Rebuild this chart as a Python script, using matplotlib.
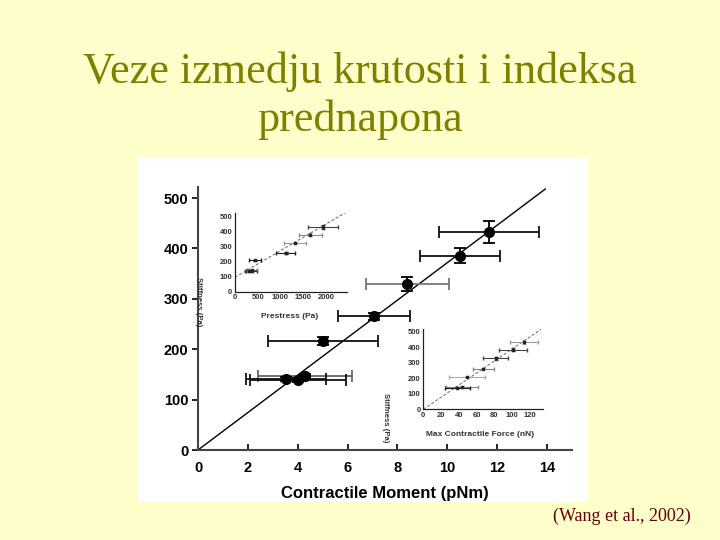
import matplotlib.pyplot as plt
from matplotlib.patches import Rectangle

# main plot: stiffness vs contractile moment
moment = [11.66, 10.51, 8.40, 7.07, 5.01, 4.29, 4.02, 3.53]
moment_err = [2.0, 1.62, 1.65, 1.45, 2.2, 1.9, 1.93, 1.6]
stiff = [433, 386, 329, 265, 217, 147, 139, 141]
stiff_err = [22, 14, 14, 7, 8, 4, 4, 4]
main_xcol = ['#111111', '#111111', '#777777', '#111111', '#111111', '#666666', '#111111', '#111111']
fit_x = [0, 13.93]
fit_y = [0, 518]

# inset 1: stiffness vs prestress
prestress = [1942, 1657, 1328, 1117, 438, 358, 300, 380]
prestress_err = [325, 255, 240, 208, 125, 120, 90, 110]
stiff1 = [431, 380, 322, 258, 209, 140, 138, 143]
stiff1_err = [12, 10, 8, 5, 4, 4, 4, 4]
ins1_col = ['#444444', '#888888', '#999999', '#222222', '#222222', '#222222', '#444444', '#666666']
fit1_x = [0, 2441]
fit1_y = [96, 527]

# inset 2: stiffness vs max contractile force
force = [113.2, 101.2, 81.6, 67.3, 48.9, 43, 38]
force_err = [16, 15.6, 14, 11.7, 20.5, 18, 14]
stiff2 = [433, 384, 328, 262, 210, 143, 140]
stiff2_err = [15, 10, 8, 5, 4, 4, 4]
ins2_col = ['#999999', '#444444', '#444444', '#888888', '#aaaaaa', '#888888', '#222222']
fit2_x = [0, 132.4]
fit2_y = [0, 515]

bg = '#FFFFCC'
fig = plt.figure(figsize=(7.2, 5.4), dpi=100, facecolor=bg)
fig.patches.append(Rectangle((138/720, 38/540), 450/720, 345/540, transform=fig.transFigure,
                             facecolor='white', edgecolor='none', zorder=-5))

fig.text(0.5, 1 - 83/540, 'Veze izmedju krutosti i indeksa', ha='center', va='baseline',
         family='Liberation Serif', fontsize=31.8, color='#808000')
fig.text(0.5, 1 - 131/540, 'prednapona', ha='center', va='baseline',
         family='Liberation Serif', fontsize=31.8, color='#808000')
fig.text(553/720, 1 - 521/540, '(Wang et al., 2002)', ha='left', va='baseline',
         family='Liberation Serif', fontsize=13, color='#660000')

sans = 'Liberation Sans'

ax = fig.add_axes([198/720, 90/540, 374/720, 263/540])
ax.set_facecolor('none')
ax.plot(fit_x, fit_y, color='black', lw=1.0, zorder=2)
for i in range(len(moment)):
    ax.errorbar(moment[i], stiff[i], xerr=moment_err[i], fmt='none', ecolor=main_xcol[i],
                elinewidth=1.3, capsize=4.5, capthick=1.3, zorder=3)
    ax.errorbar(moment[i], stiff[i], yerr=stiff_err[i], fmt='o', color='black', ms=7,
                ecolor='black', elinewidth=1.3, capsize=4.5, capthick=1.3, zorder=4)
ax.set_xlim(0, 15)
ax.set_ylim(0, 522)
ax.set_xticks(range(0, 15, 2))
ax.set_yticks(range(0, 501, 100))
ax.spines['top'].set_visible(False)
ax.spines['right'].set_visible(False)
for s in ['left', 'bottom']:
    ax.spines[s].set_color('#444444')
    ax.spines[s].set_linewidth(1.5)
ax.tick_params(axis='x', direction='in', length=4, width=1.2, pad=8)
ax.tick_params(axis='y', direction='out', length=4, width=1.2, pad=3)
for lab in ax.get_xticklabels() + ax.get_yticklabels():
    lab.set_family(sans)
    lab.set_fontweight('bold')
    lab.set_fontsize(10.5)
ax.set_xlabel('Contractile Moment (pNm)', family=sans, fontweight='bold', fontsize=12, labelpad=8)


def style_inset(a):
    a.set_facecolor('none')
    a.spines['top'].set_visible(False)
    a.spines['right'].set_visible(False)
    for s in ['left', 'bottom']:
        a.spines[s].set_linewidth(0.9)
        a.spines[s].set_color('#222222')
    a.tick_params(length=0, pad=2, labelsize=5.5)
    for lab in a.get_xticklabels() + a.get_yticklabels():
        lab.set_family(sans)
        lab.set_fontweight('bold')
        lab.set_color('#333333')


ax1 = fig.add_axes([235/720, (540-291.7)/540, 111.7/720, 78.7/540])
ax1.plot(fit1_x, fit1_y, color='#666666', lw=0.7, ls=(0, (3, 2)))
for i in range(len(prestress)):
    ax1.errorbar(prestress[i], stiff1[i], xerr=prestress_err[i], yerr=stiff1_err[i], fmt='s',
                 ms=1.8, color='#222222', ecolor=ins1_col[i], elinewidth=0.8, capsize=1.5)
ax1.set_xlim(0, 2460)
ax1.set_ylim(0, 523)
ax1.set_xticks([0, 500, 1000, 1500, 2000])
ax1.set_yticks(range(0, 501, 100))
style_inset(ax1)
fig.text(290/720, 1 - 316/540, 'Prestress (Pa)', ha='center', va='center', family=sans,
         fontsize=6, fontweight='bold', color='#333333')
fig.text(198/720, 1 - 302/540, 'Stiffness (Pa)', ha='center', va='center', family=sans,
         fontsize=5.5, fontweight='bold', color='#333333', rotation=270)

ax2 = fig.add_axes([423.3/720, (540-409.3)/540, 120/720, 80.3/540])
ax2.plot(fit2_x, fit2_y, color='#666666', lw=0.7, ls=(0, (3, 2)))
for i in range(len(force)):
    ax2.errorbar(force[i], stiff2[i], xerr=force_err[i], yerr=stiff2_err[i], fmt='s',
                 ms=1.8, color='#222222', ecolor=ins2_col[i], elinewidth=0.8, capsize=1.5)
ax2.set_xlim(0, 135)
ax2.set_ylim(0, 517)
ax2.set_xticks(range(0, 121, 20))
ax2.set_yticks(range(0, 501, 100))
style_inset(ax2)
fig.text(480/720, 1 - 435/540, 'Max Contractile Force (nN)', ha='center', va='center', family=sans,
         fontsize=6, fontweight='bold', color='#333333')
fig.text(386/720, 1 - 418/540, 'Stiffness (Pa)', ha='center', va='center', family=sans,
         fontsize=5.5, fontweight='bold', color='#333333', rotation=270)

fig.savefig('out.png', dpi=100, facecolor=bg)
